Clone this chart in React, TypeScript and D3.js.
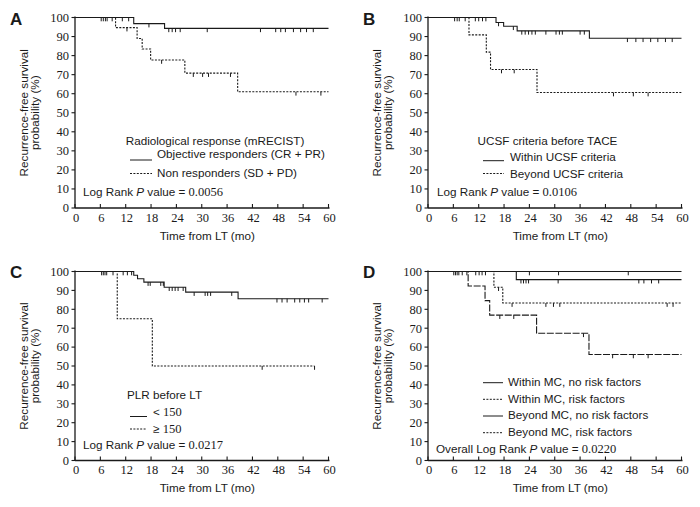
import React from "react";
import * as d3 from "d3";

const timeTicks = [0, 6, 12, 18, 24, 30, 36, 42, 48, 54, 60];
const survTicks = [0, 10, 20, 30, 40, 50, 60, 70, 80, 90, 100];
const xAxisTitle = "Time from LT (mo)";
const yAxisTitle = ["Recurrence-free survival", "probability (%)"];

// Panel A
const aRespEvents = [13.9, 21.2];
const aRespSurv = [96.8, 94.3];
const aRespCensored = [6.2, 6.7, 7.2, 7.6, 8.8, 11.2, 12.7, 17.5, 22.2, 23.0, 23.8, 24.9, 31.3, 43.9, 47.5, 48.7, 49.8, 51.7, 53.4, 54.8, 56.4];
const aNonEvents = [9.6, 14.7, 15.9, 17.9, 26.0, 38.5];
const aNonSurv = [94.7, 89.0, 83.5, 77.7, 70.8, 61.0];
const aNonCensored = [12.3, 20.5, 28.0, 30.2, 31.6, 36.8, 52.3, 58.2];
const aLegendTitle = "Radiological response (mRECIST)";
const aLegendLabels = ["Objective responders (CR + PR)", "Non responders (SD + PD)"];
const aPValue = "0.0056";

// Panel B
const bWithinEvents = [16.1, 17.9, 21.1, 38.2];
const bWithinSurv = [97.4, 95.4, 93.0, 89.1];
const bWithinCensored = [6.3, 6.9, 7.4, 8.8, 11.2, 12.0, 12.9, 13.7, 16.7, 20.2, 22.2, 23.0, 23.8, 24.6, 25.4, 27.9, 30.3, 31.1, 31.8, 36.0, 37.0, 47.2, 49.2, 50.9, 52.7, 54.4, 56.2, 57.8];
const bBeyondEvents = [9.7, 13.8, 14.8, 25.8];
const bBeyondSurv = [90.9, 81.8, 72.7, 60.6];
const bBeyondCensored = [17.4, 20.4, 43.9, 48.6, 52.1];
const bLegendTitle = "UCSF criteria before TACE";
const bLegendLabels = ["Within UCSF criteria", "Beyond UCSF criteria"];
const bPValue = "0.0106";

// Panel C
const cLowEvents = [13.9, 14.8, 16.3, 21.1, 26.2, 38.6];
const cLowSurv = [98.0, 96.2, 94.4, 91.7, 89.1, 85.6];
const cLowCensored = [6.3, 6.7, 7.1, 7.5, 9.0, 11.4, 12.4, 13.4, 17.3, 17.8, 20.3, 20.9, 22.3, 23.0, 23.7, 24.4, 25.6, 28.2, 30.8, 31.4, 32.1, 37.1, 47.8, 49.0, 50.2, 52.0, 53.2, 54.3, 55.3, 58.5];
const cHighEvents = [10.0, 18.3];
const cHighSurv = [75, 50];
const cHighCensored = [44.3, 56.7];
const cLegendTitle = "PLR before LT";
const cLegendLabels = ["< 150", "≥ 150"];
const cPValue = "0.0217";

// Panel D
const dWithinNoEvents: number[] = [];
const dWithinNoSurv: number[] = [];
const dWithinNoCensored = [24.0, 30.9, 47.4];
const dBeyondNoEvents = [20.9];
const dBeyondNoSurv = [95.7];
const dBeyondNoCensored = [6.1, 6.5, 6.9, 7.3, 8.1, 9.2, 11.3, 12.1, 12.8, 13.6, 22.0, 22.6, 23.2, 23.8, 30.8, 49.9, 51.1, 52.9, 54.6];
const dWithinRiskEvents = [15.6, 17.7];
const dWithinRiskSurv = [91.7, 83.3];
const dWithinRiskCensored = [16.7, 19.9, 27.9, 29.7, 31.2, 56.6, 58.0];
const dBeyondRiskEvents = [9.5, 13.5, 14.6, 25.7, 38.1];
const dBeyondRiskSurv = [92.3, 84.6, 76.9, 67.3, 56.1];
const dBeyondRiskCensored = [17.0, 20.3, 36.8, 43.7, 48.6, 52.1];
const dLegendLabels = ["Within MC, no risk factors", "Within MC, risk factors", "Beyond MC, no risk factors", "Beyond MC, risk factors"];
const dPValue = "0.0220";

const SANS = "'Liberation Sans', Arial, sans-serif";
const SERIF = "'Liberation Serif', 'Times New Roman', serif";
const INK = "#1a1a1a";
const SOLID = "none";
const DOTTED = "2,1.4";
const LONGDASH = "7,1.6";
const FS = 11.7;

type Curve = { events: number[]; surv: number[]; censored: number[]; end: number; dash: string };
type LegendRow = { label: string; dash: string; lx1: number; lx2: number; ly: number; tx: number; ty: number };
type PanelSpec = {
  letter: string;
  ox: number;
  oy: number;
  x0: number;
  x1: number;
  y0: number;
  y100: number;
  curves: Curve[];
  legendTitle?: { text: string; x: number; y: number; anchor: string };
  rows: LegendRow[];
  pPrefix: string;
  pValue: string;
  px: number;
  py: number;
};

function survAt(c: Curve, t: number) {
  let v = 100;
  c.events.forEach((e, i) => {
    if (e <= t) v = c.surv[i];
  });
  return v;
}

function labelParts(label: string) {
  const m = label.match(/^(.*?)(\d+)$/);
  if (!m) return <tspan>{label}</tspan>;
  return (
    <>
      <tspan>{m[1]}</tspan>
      <tspan fontFamily={SERIF} fontSize={12.5}>{m[2]}</tspan>
    </>
  );
}

function Panel({ p }: { p: PanelSpec }) {
  const x = d3.scaleLinear().domain([0, 60]).range([p.x0, p.x1]);
  const y = d3.scaleLinear().domain([0, 100]).range([p.y0, p.y100]);
  const line = d3
    .line<[number, number]>()
    .x((d) => x(d[0]))
    .y((d) => y(d[1]))
    .curve(d3.curveStepAfter);
  const ymid = (p.y0 + p.y100) / 2;
  return (
    <g>
      <text x={p.ox + 10} y={p.oy + 25} fontFamily={SANS} fontWeight="bold" fontSize={17} fill={INK}>
        {p.letter}
      </text>
      {yAxisTitle.map((t, i) => {
        const tx = p.ox + (i === 0 ? 27.5 : 38.5);
        return (
          <text key={t} transform={`translate(${tx},${ymid}) rotate(-90)`} textAnchor="middle" fontFamily={SANS} fontSize={FS} fill={INK}>
            {t}
          </text>
        );
      })}
      {/* axes */}
      <line x1={p.x0} x2={p.x0} y1={p.y0} y2={p.y100 - 1} stroke={INK} strokeWidth={1.3} />
      <line x1={p.x0} x2={p.x1 + 1} y1={p.y0} y2={p.y0} stroke={INK} strokeWidth={1.3} />
      {survTicks.map((v) => (
        <g key={"y" + v}>
          <line x1={p.x0 - 3.5} x2={p.x0} y1={y(v)} y2={y(v)} stroke={INK} strokeWidth={1.1} />
          <text x={p.x0 - 6} y={y(v)} dy="0.35em" textAnchor="end" fontFamily={SERIF} fontSize={12.5} fill={INK}>
            {v}
          </text>
        </g>
      ))}
      {timeTicks.map((t) => (
        <g key={"x" + t}>
          <line x1={x(t)} x2={x(t)} y1={p.y0} y2={p.y0 - 4} stroke={INK} strokeWidth={1.1} />
          <text x={x(t) + 1} y={p.y0 + 13.5} textAnchor="middle" fontFamily={SERIF} fontSize={12.5} fill={INK}>
            {t}
          </text>
        </g>
      ))}
      <text x={(p.x0 + p.x1) / 2 + 5.5} y={p.y0 + 31.5} textAnchor="middle" fontFamily={SANS} fontSize={FS} fill={INK}>
        {xAxisTitle}
      </text>
      {/* curves */}
      {p.curves.map((c, i) => {
        const last = c.surv.length ? c.surv[c.surv.length - 1] : 100;
        const pts: [number, number][] = [[0, 100], ...c.events.map((e, j) => [e, c.surv[j]] as [number, number]), [c.end, last]];
        return (
          <g key={i}>
            <path d={line(pts) || ""} fill="none" stroke={INK} strokeWidth={1.1} strokeDasharray={c.dash} />
            {c.censored.map((t, j) => (
              <line key={j} x1={x(t)} x2={x(t)} y1={y(survAt(c, t))} y2={y(survAt(c, t)) + 3.8} stroke={INK} strokeWidth={1} />
            ))}
          </g>
        );
      })}
      {/* legend */}
      {p.legendTitle && (
        <text x={p.legendTitle.x} y={p.legendTitle.y} textAnchor={p.legendTitle.anchor} fontFamily={SANS} fontSize={FS} fill={INK}>
          {p.legendTitle.text}
        </text>
      )}
      {p.rows.map((r) => (
        <g key={r.label}>
          <line x1={r.lx1} x2={r.lx2} y1={r.ly} y2={r.ly} stroke={INK} strokeWidth={1} strokeDasharray={r.dash} />
          <text x={r.tx} y={r.ty} fontFamily={SANS} fontSize={FS} fill={INK}>
            {labelParts(r.label)}
          </text>
        </g>
      ))}
      <text x={p.px} y={p.py} fontFamily={SANS} fontSize={FS} fill={INK}>
        <tspan>{p.pPrefix}</tspan>
        <tspan fontStyle="italic">P</tspan>
        <tspan> value = </tspan>
        <tspan fontFamily={SERIF} fontSize={12.5}>{p.pValue}</tspan>
      </text>
    </g>
  );
}

const DX = 353;
const TOP = { y0: 208, y100: 17.5 };
const BOT = { y0: 460.5, y100: 271.5 };
const LEFT = { x0: 75, x1: 328.5 };
const RIGHT = { x0: 75 + DX, x1: 328.5 + DX };

const panels: PanelSpec[] = [
  {
    letter: "A",
    ox: 0,
    oy: 0,
    ...LEFT,
    ...TOP,
    curves: [
      { events: aRespEvents, surv: aRespSurv, censored: aRespCensored, end: 60, dash: SOLID },
      { events: aNonEvents, surv: aNonSurv, censored: aNonCensored, end: 60, dash: DOTTED },
    ],
    legendTitle: { text: aLegendTitle, x: 215, y: 145, anchor: "middle" },
    rows: [
      { label: aLegendLabels[0], dash: SOLID, lx1: 130, lx2: 152, ly: 160, tx: 157, ty: 157.5 },
      { label: aLegendLabels[1], dash: DOTTED, lx1: 130, lx2: 152, ly: 173.5, tx: 157, ty: 177 },
    ],
    pPrefix: "Log Rank ",
    pValue: aPValue,
    px: 83,
    py: 195.5,
  },
  {
    letter: "B",
    ox: DX,
    oy: 0,
    ...RIGHT,
    ...TOP,
    curves: [
      { events: bWithinEvents, surv: bWithinSurv, censored: bWithinCensored, end: 60, dash: SOLID },
      { events: bBeyondEvents, surv: bBeyondSurv, censored: bBeyondCensored, end: 60, dash: DOTTED },
    ],
    legendTitle: { text: bLegendTitle, x: 547.5, y: 145, anchor: "middle" },
    rows: [
      { label: bLegendLabels[0], dash: SOLID, lx1: 483, lx2: 504, ly: 160.7, tx: 510, ty: 161 },
      { label: bLegendLabels[1], dash: DOTTED, lx1: 483, lx2: 504, ly: 173.5, tx: 510, ty: 177.5 },
    ],
    pPrefix: "Log Rank ",
    pValue: bPValue,
    px: 437,
    py: 196,
  },
  {
    letter: "C",
    ox: 0,
    oy: 253,
    ...LEFT,
    ...BOT,
    curves: [
      { events: cLowEvents, surv: cLowSurv, censored: cLowCensored, end: 60, dash: SOLID },
      { events: cHighEvents, surv: cHighSurv, censored: cHighCensored, end: 56.7, dash: DOTTED },
    ],
    legendTitle: { text: cLegendTitle, x: 127, y: 399, anchor: "start" },
    rows: [
      { label: cLegendLabels[0], dash: SOLID, lx1: 130, lx2: 147, ly: 416.5, tx: 153, ty: 416 },
      { label: cLegendLabels[1], dash: DOTTED, lx1: 130, lx2: 147, ly: 429, tx: 153, ty: 432.5 },
    ],
    pPrefix: "Log Rank ",
    pValue: cPValue,
    px: 83,
    py: 449,
  },
  {
    letter: "D",
    ox: DX,
    oy: 253,
    ...RIGHT,
    ...BOT,
    curves: [
      { events: dWithinNoEvents, surv: dWithinNoSurv, censored: dWithinNoCensored, end: 60, dash: SOLID },
      { events: dBeyondNoEvents, surv: dBeyondNoSurv, censored: dBeyondNoCensored, end: 60, dash: SOLID },
      { events: dWithinRiskEvents, surv: dWithinRiskSurv, censored: dWithinRiskCensored, end: 60, dash: DOTTED },
      { events: dBeyondRiskEvents, surv: dBeyondRiskSurv, censored: dBeyondRiskCensored, end: 60, dash: LONGDASH },
    ],
    rows: [
      { label: dLegendLabels[0], dash: SOLID, lx1: 483, lx2: 503, ly: 382.7, tx: 508, ty: 386 },
      { label: dLegendLabels[1], dash: DOTTED, lx1: 483, lx2: 503, ly: 399.3, tx: 508, ty: 402.5 },
      { label: dLegendLabels[2], dash: SOLID, lx1: 483, lx2: 503, ly: 416, tx: 508, ty: 419 },
      { label: dLegendLabels[3], dash: DOTTED, lx1: 483, lx2: 503, ly: 432.7, tx: 508, ty: 436 },
    ],
    pPrefix: "Overall Log Rank ",
    pValue: dPValue,
    px: 436,
    py: 452.5,
  },
];

export default function App() {
  return (
    <svg width={700} height={507} viewBox="0 0 700 507" style={{ position: "absolute", left: 0, top: 0, background: "#fff" }}>
      <rect width={700} height={507} fill="#fff" />
      {panels.map((p) => (
        <Panel key={p.letter} p={p} />
      ))}
    </svg>
  );
}
